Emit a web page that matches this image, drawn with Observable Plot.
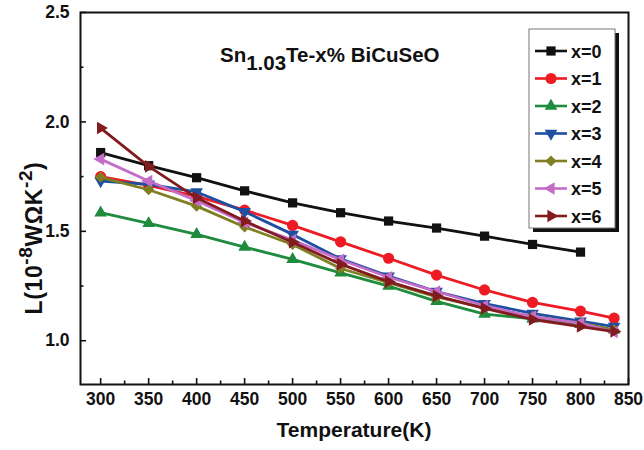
<!DOCTYPE html>
<html><head><meta charset="utf-8">
<script src="https://cdn.jsdelivr.net/npm/d3@7"></script>
<script src="https://cdn.jsdelivr.net/npm/@observablehq/plot@0.6"></script>
<style>body{margin:0;background:#fff}#chart{width:644px;height:450px}</style>
</head><body><div id="chart"></div>
<script>
// ---- data ----
const temps = [300, 350, 400, 450, 500, 550, 600, 650, 700, 750, 800, 835];
const seriesNames = ["x=0", "x=1", "x=2", "x=3", "x=4", "x=5", "x=6"];
const L_x0 = [1.86, 1.80, 1.745, 1.685, 1.63, 1.585, 1.547, 1.515, 1.478, 1.44, 1.405];
const L_x1 = [1.75, 1.71, 1.66, 1.597, 1.527, 1.452, 1.377, 1.30, 1.232, 1.175, 1.135, 1.103];
const L_x2 = [1.585, 1.536, 1.486, 1.428, 1.372, 1.31, 1.25, 1.18, 1.122, 1.10, 1.075, 1.05];
const L_x3 = [1.73, 1.715, 1.68, 1.59, 1.486, 1.374, 1.295, 1.225, 1.17, 1.125, 1.09, 1.065];
const L_x4 = [1.747, 1.69, 1.615, 1.52, 1.44, 1.33, 1.265, 1.20, 1.15, 1.11, 1.08, 1.05];
const L_x5 = [1.83, 1.73, 1.64, 1.54, 1.46, 1.37, 1.29, 1.225, 1.16, 1.11, 1.08, 1.04];
const L_x6 = [1.972, 1.797, 1.653, 1.547, 1.45, 1.35, 1.27, 1.205, 1.148, 1.097, 1.065, 1.042];
const seriesValues = [L_x0, L_x1, L_x2, L_x3, L_x4, L_x5, L_x6];
const xMajor = [300, 350, 400, 450, 500, 550, 600, 650, 700, 750, 800, 850];
const xMinor = [325, 375, 425, 475, 525, 575, 625, 675, 725, 775, 825];
const yMajor = [1.0, 1.5, 2.0, 2.5];
const yMinor = [1.25, 1.75, 2.25];
const titleMain = "Sn", titleSub = "1.03", titleRest = "Te-x% BiCuSeO";
const xLabel = "Temperature(K)";

// ---- styles ----
const colors = ["#111111", "#ed1c24", "#1e8b3d", "#1f4fa0", "#7f7f22", "#c46cc8", "#821b1f"];
const sq3 = Math.sqrt(3);
const triUp = d3.symbolTriangle;
const triDown = {draw(c, s) { const y = -Math.sqrt(s / (sq3 * 3)); c.moveTo(0, -2 * y); c.lineTo(-sq3 * y, y); c.lineTo(sq3 * y, y); c.closePath(); }};
const triLeft = {draw(c, s) { const y = -Math.sqrt(s / (sq3 * 3)); c.moveTo(2 * y, 0); c.lineTo(-y, sq3 * y); c.lineTo(-y, -sq3 * y); c.closePath(); }};
const triRight = {draw(c, s) { const y = -Math.sqrt(s / (sq3 * 3)); c.moveTo(-2 * y, 0); c.lineTo(y, sq3 * y); c.lineTo(y, -sq3 * y); c.closePath(); }};
const symbols = [d3.symbolSquare, d3.symbolCircle, triUp, triDown, d3.symbolDiamond2, triLeft, triRight];
const radii = [5.2, 5.6, 4.7, 4.7, 5.0, 4.7, 4.7];

const rows = seriesValues.map((vals, i) => vals.map((v, j) => ({T: temps[j], L: v, s: seriesNames[i]})));

const W = 644, H = 450, mL = 80, mR = 16, mT = 12, mB = 66;
const plotH = H - mT - mB, plotW = W - mL - mR;
const font = "Liberation Sans, Arial, sans-serif";

const marks = [];
rows.forEach((data, i) => {
  marks.push(Plot.line(data, {x: "T", y: "L", stroke: colors[i], strokeWidth: 2.8}));
  marks.push(Plot.dot(data, {x: "T", y: "L", fill: colors[i], stroke: "none", symbol: symbols[i], r: radii[i]}));
});

const chart = Plot.plot({
  width: W, height: H,
  marginLeft: mL, marginRight: mR, marginTop: mT, marginBottom: mB,
  style: {fontFamily: font, background: "#fff"},
  x: {domain: [279, 850]},
  y: {domain: [0.8, 2.5]},
  marks: [
    ...marks,
    Plot.ruleX(xMajor, {x: d => d, insetTop: plotH - 6, stroke: "#111", strokeWidth: 1.6}),
    Plot.ruleX(xMinor, {x: d => d, insetTop: plotH - 3.5, stroke: "#111", strokeWidth: 1.6}),
    Plot.ruleY(yMajor, {y: d => d, insetRight: plotW - 6, stroke: "#111", strokeWidth: 1.6}),
    Plot.ruleY(yMinor, {y: d => d, insetRight: plotW - 3.5, stroke: "#111", strokeWidth: 1.6}),
    Plot.axisX(xMajor, {tickSize: 0, tickPadding: 8, label: null, fontSize: 17.5, fontWeight: "bold", fill: "#111"}),
    Plot.axisY(yMajor, {tickSize: 0, tickPadding: 11, label: null, tickFormat: d3.format(".1f"), fontSize: 17.5, fontWeight: "bold", fill: "#111"}),
    Plot.frame({stroke: "#111", strokeWidth: 2})
  ]
});
document.getElementById("chart").appendChild(chart);

// ---- texts & legend ----
const svg = d3.select(chart);
const t = svg.append("text").attr("x", 220).attr("y", 62).attr("text-anchor", "start")
  .attr("font-family", font).attr("font-weight", "bold").attr("font-size", 20.5).attr("fill", "#111");
t.append("tspan").text(titleMain);
t.append("tspan").attr("dy", 8).text(titleSub);
t.append("tspan").attr("dy", -8).text(titleRest);

svg.append("text").attr("x", 354).attr("y", 437).attr("text-anchor", "middle")
  .attr("font-family", font).attr("font-weight", "bold").attr("font-size", 21).attr("fill", "#111").text(xLabel);

const yl = svg.append("text").attr("transform", "translate(42,238) rotate(-90)").attr("text-anchor", "middle")
  .attr("font-family", font).attr("font-weight", "bold").attr("font-size", 23).attr("letter-spacing", 0.6).attr("fill", "#111");
yl.append("tspan").text("L(10");
yl.append("tspan").attr("dy", -10).attr("font-size", 19).text("-8");
yl.append("tspan").attr("dy", 10).text("W\u03A9K");
yl.append("tspan").attr("dy", -10).attr("font-size", 19).text("-2");
yl.append("tspan").attr("dy", 10).text(")");

const lg = svg.append("g");
lg.append("rect").attr("x", 533).attr("y", 33).attr("width", 86).attr("height", 199).attr("fill", "#111");
lg.append("rect").attr("x", 529).attr("y", 29).attr("width", 86).attr("height", 199).attr("fill", "#fff").attr("stroke", "#777").attr("stroke-width", 1);
seriesNames.forEach((name, i) => {
  const cy = 51 + i * 27.5;
  lg.append("line").attr("x1", 535).attr("x2", 567).attr("y1", cy).attr("y2", cy).attr("stroke", colors[i]).attr("stroke-width", 2.6);
  lg.append("path").attr("transform", `translate(551,${cy})`).attr("d", d3.symbol(symbols[i], Math.PI * radii[i] * radii[i])()).attr("fill", colors[i]);
  lg.append("text").attr("x", 571).attr("y", cy + 6.5).attr("text-anchor", "start").attr("font-family", font).attr("font-weight", "bold").attr("font-size", 18).attr("fill", "#111").text(name);
});
</script></body></html>
